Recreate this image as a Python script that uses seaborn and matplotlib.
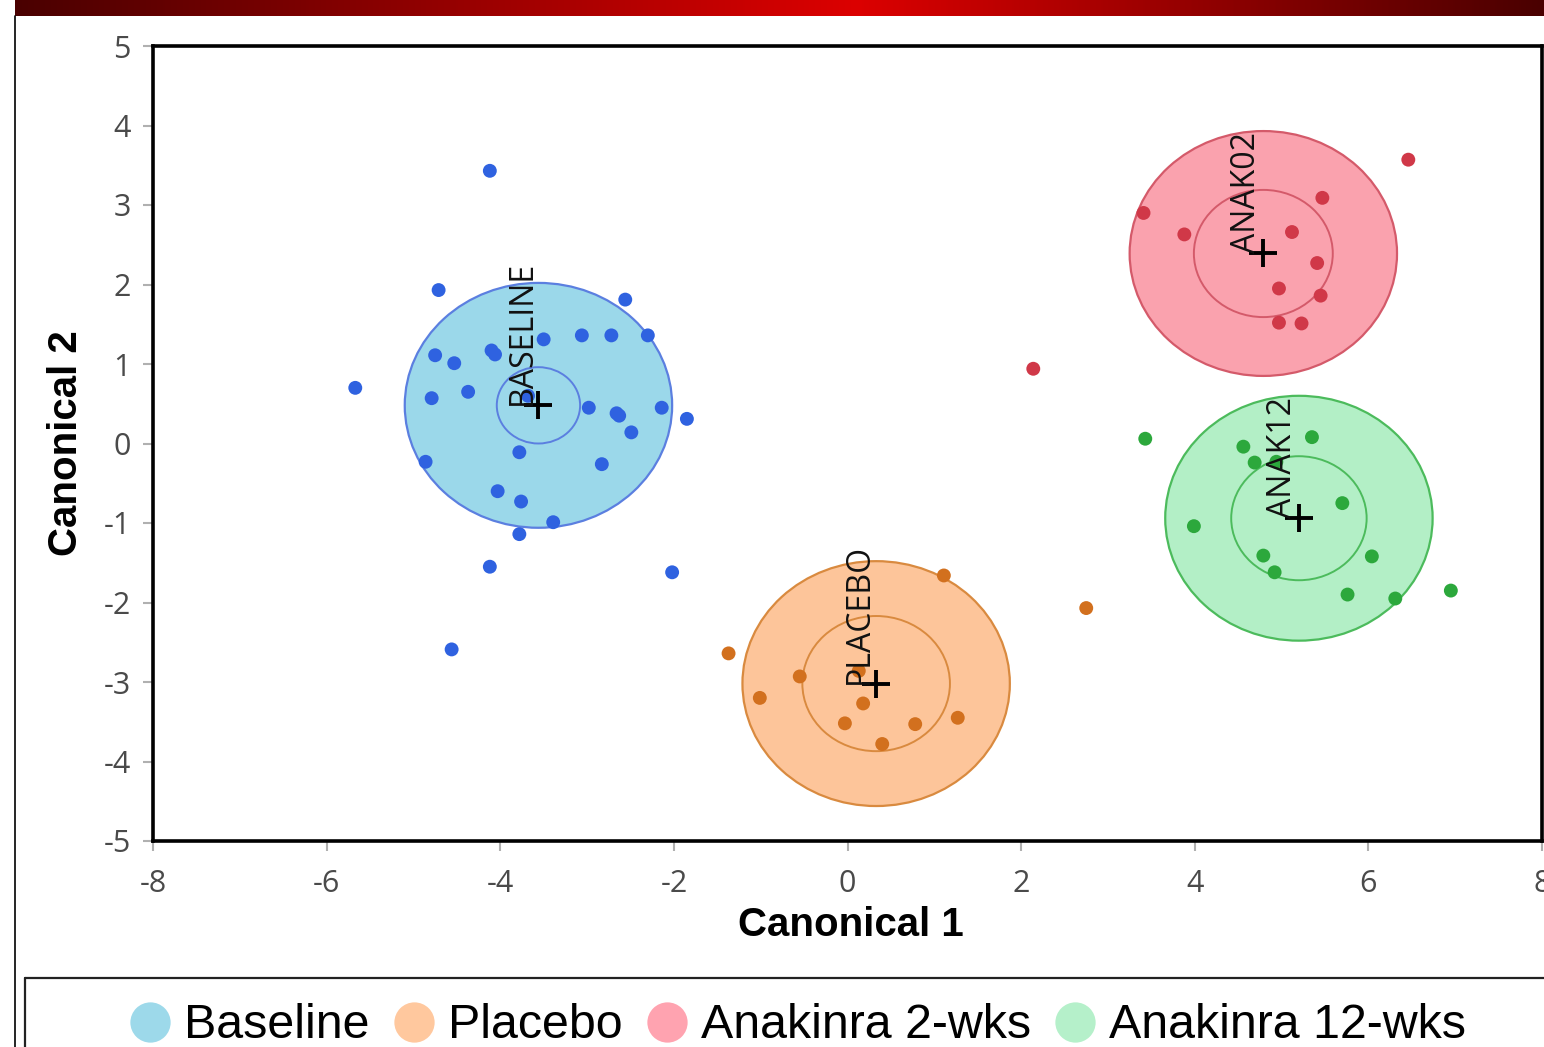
import numpy as np
import pandas as pd
import seaborn as sns
import matplotlib.pyplot as plt
import matplotlib.patches as patches
from matplotlib.lines import Line2D
from matplotlib.colors import LinearSegmentedColormap

# canonical scores, one list per group
baseline_x = [-4.12, -4.71, -2.56, -5.67, -4.75, -4.53, -4.10, -4.06, -3.50, -3.06, -2.72,
              -2.30, -4.79, -4.37, -3.68, -2.98, -2.66, -2.63, -2.49, -2.14, -1.85, -4.86,
              -3.78, -2.83, -4.03, -3.76, -3.39, -3.78, -4.12, -4.56, -2.02]
baseline_y = [3.43, 1.93, 1.81, 0.70, 1.11, 1.01, 1.17, 1.12, 1.31, 1.36, 1.36,
              1.36, 0.57, 0.65, 0.60, 0.45, 0.38, 0.35, 0.14, 0.45, 0.31, -0.23,
              -0.11, -0.26, -0.60, -0.73, -0.99, -1.14, -1.55, -2.59, -1.62]
placebo_x = [1.11, 2.75, -1.37, -0.55, -1.01, 0.13, 0.18, -0.03, 0.78, 1.27, 0.40]
placebo_y = [-1.66, -2.07, -2.64, -2.93, -3.20, -2.86, -3.27, -3.52, -3.53, -3.45, -3.78]
anak02_x = [6.46, 3.41, 3.88, 5.47, 5.12, 5.41, 4.97, 5.45, 4.97, 5.23, 2.14]
anak02_y = [3.57, 2.90, 2.63, 3.09, 2.66, 2.27, 1.95, 1.86, 1.52, 1.51, 0.94]
anak12_x = [3.43, 4.56, 5.35, 4.69, 4.94, 5.70, 3.99, 4.79, 4.92, 6.04, 5.76, 6.31, 6.95]
anak12_y = [0.06, -0.04, 0.08, -0.24, -0.23, -0.75, -1.04, -1.41, -1.62, -1.42, -1.90, -1.95, -1.85]

groups = ["BASELINE", "PLACEBO", "ANAK02", "ANAK12"]
legend_labels = ["Baseline", "Placebo", "Anakinra 2-wks", "Anakinra 12-wks"]
center_x = [-3.56, 0.33, 4.79, 5.20]
center_y = [0.48, -3.02, 2.39, -0.94]
outer_r = [1.54, 1.54, 1.54, 1.54]
inner_r = [0.48, 0.85, 0.80, 0.78]

point_colors = ["#2f62e0", "#d2701e", "#d03848", "#2ca83c"]
fill_colors = ["#9bd8ea", "#fdc59a", "#faa2ae", "#b3efc6"]
edge_colors = ["#5b7fe0", "#d98a3f", "#d45a6a", "#4cbb5c"]
legend_colors = ["#9dd9ea", "#ffc89e", "#ffa3b0", "#b5f0ca"]

df = pd.DataFrame({
    "x": baseline_x + placebo_x + anak02_x + anak12_x,
    "y": baseline_y + placebo_y + anak02_y + anak12_y,
    "group": (["BASELINE"] * len(baseline_x) + ["PLACEBO"] * len(placebo_x)
              + ["ANAK02"] * len(anak02_x) + ["ANAK12"] * len(anak12_x)),
})
centers = pd.DataFrame({"x": center_x, "y": center_y, "group": groups})

sns.set_theme(style="white")
plt.rcParams["font.family"] = ["Open Sans", "DejaVu Sans"]
plt.rcParams["axes.unicode_minus"] = False

W, H = 1544, 1047
fig = plt.figure(figsize=(W / 100, H / 100), dpi=100)
ax = fig.add_axes([153 / W, 1 - 841 / H, 1389 / W, 795 / H])

# containment circles (outer filled, inner outline)
for i, g in enumerate(groups):
    ax.add_patch(patches.Circle((center_x[i], center_y[i]), outer_r[i],
                                facecolor=fill_colors[i], edgecolor=edge_colors[i],
                                linewidth=1.6, zorder=1))
    ax.add_patch(patches.Circle((center_x[i], center_y[i]), inner_r[i],
                                facecolor="none", edgecolor=edge_colors[i],
                                linewidth=1.4, zorder=2))

sns.scatterplot(data=df, x="x", y="y", hue="group", hue_order=groups,
                palette=dict(zip(groups, point_colors)), s=100, linewidth=0,
                legend=False, ax=ax, zorder=3)
sns.scatterplot(data=centers, x="x", y="y", marker="+", s=420, color="black",
                linewidth=2.8, legend=False, ax=ax, zorder=5)

for i, g in enumerate(groups):
    ax.text(center_x[i], center_y[i], g, rotation=90, ha="right", va="bottom",
            fontsize=23, color="#111111", zorder=6)

ax.set_xlim(-8, 8)
ax.set_ylim(-5, 5)
ax.set_xticks(np.arange(-8, 9, 2))
ax.set_yticks(np.arange(-5, 6, 1))
ax.tick_params(axis="both", which="both", direction="out", length=7, width=1.5,
               color="#b0b0b0", labelcolor="#4a4a4a", labelsize=22,
               bottom=True, left=True)
ax.tick_params(axis="x", pad=13)
ax.tick_params(axis="y", pad=9)
for sp in ax.spines.values():
    sp.set_color("black")
    sp.set_linewidth(2.6)

ax.set_xlabel("Canonical 1", fontsize=29, fontweight="bold",
              family=["Liberation Sans", "DejaVu Sans"], color="black")
ax.set_ylabel("Canonical 2", fontsize=29, fontweight="bold",
              family=["Liberation Sans", "DejaVu Sans"], color="black")
ax.xaxis.set_label_coords(0.5025, -0.082)
ax.yaxis.set_label_coords(-0.049, 0.5)
ax.xaxis.label.set_va("top")

# slide header bar
bar = fig.add_axes([15 / W, 1 - 16 / H, 1 - 15 / W, 16 / H])
bar_cmap = LinearSegmentedColormap.from_list(
    "hdr", [(0, "#4a0000"), (0.55, "#dc0000"), (1, "#4a0000")])
bar.imshow(np.linspace(0, 1, 512)[None, :], aspect="auto", cmap=bar_cmap)
bar.set_axis_off()

# slide frame lines
fig.add_artist(Line2D([15 / W, 15 / W], [0, 1 - 16 / H], transform=fig.transFigure,
                      color="black", linewidth=1.2))
fig.add_artist(Line2D([25 / W, 1], [1 - 978 / H, 1 - 978 / H], transform=fig.transFigure,
                      color="#222222", linewidth=1.6))
fig.add_artist(Line2D([25 / W, 25 / W], [0, 1 - 978 / H], transform=fig.transFigure,
                      color="#222222", linewidth=1.6))

handles = [Line2D([], [], marker="o", linestyle="none", markersize=29,
                  markerfacecolor=c, markeredgecolor="none") for c in legend_colors]
leg = fig.legend(handles, legend_labels, loc="center left",
                 bbox_to_anchor=(126 / W, 21 / H), ncol=4, frameon=False,
                 prop={"family": ["Liberation Sans", "DejaVu Sans"], "size": 34.8},
                 handlelength=1.0, handletextpad=0.2, columnspacing=0.42,
                 borderpad=0, borderaxespad=0)
for t in leg.get_texts():
    t.set_color("black")

fig.savefig("out.png", dpi=100)
